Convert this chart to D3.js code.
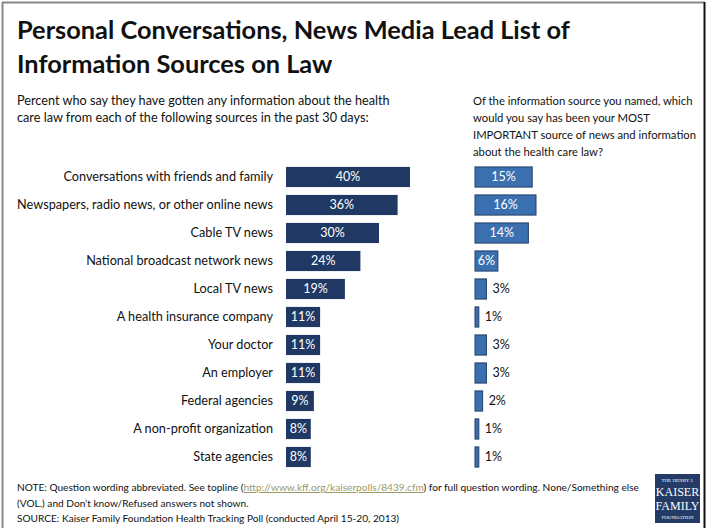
<!DOCTYPE html>
<html><head><meta charset="utf-8">
<script src="https://cdn.jsdelivr.net/npm/d3@7"></script>
<style>body{margin:0;background:#fff;} svg{display:block;font-family:Lato,"Open Sans",sans-serif;}</style>
</head><body>
<svg id="c" width="707" height="528"></svg>
<script>
const categories = ["Conversations with friends and family","Newspapers, radio news, or other online news","Cable TV news","National broadcast network news","Local TV news","A health insurance company","Your doctor","An employer","Federal agencies","A non-profit organization","State agencies"];
const anyInfo = [40,36,30,24,19,11,11,11,9,8,8];
const mostImportant = [15,16,14,6,3,1,3,3,2,1,1];

const svg = d3.select("#c");
// scale font of a selection of elements so the widest measured element has given width
function fit(sel, measureSel, target){
  let w = 0;
  measureSel.each(function(){ w = Math.max(w, this.getComputedTextLength()); });
  const fs = parseFloat(sel.attr("font-size"));
  sel.attr("font-size", fs*target/w);
}

// frame
svg.append("line").attr("x1",2).attr("x2",705).attr("y1",2.5).attr("y2",2.5).attr("stroke","#888").attr("stroke-width",2);
svg.append("line").attr("x1",2.5).attr("x2",2.5).attr("y1",2).attr("y2",528).attr("stroke","#888").attr("stroke-width",2);
svg.append("line").attr("x1",704.5).attr("x2",704.5).attr("y1",2).attr("y2",528).attr("stroke","#111").attr("stroke-width",2);

const title = svg.append("text").attr("font-weight","bold").attr("font-size",25).attr("fill","#111");
title.append("tspan").attr("x",17).attr("y",39).text("Personal Conversations, News Media Lead List of");
title.append("tspan").attr("x",17).attr("y",73).text("Information Sources on Law");
fit(title, title.selectAll("tspan"), 553);

const sub1 = svg.append("text").attr("font-size",13).attr("fill","#111");
["Percent who say they have gotten any information about the health","care law from each of the following sources in the past 30 days:"].forEach((t,i)=>
  sub1.append("tspan").attr("x",17).attr("y",105+i*17).text(t));
fit(sub1, sub1.selectAll("tspan"), 373);
const sub2 = svg.append("text").attr("font-size",13).attr("fill","#111");
["Of the information source you named, which","would you say has been your MOST","IMPORTANT source of news and information","about the health care law?"].forEach((t,i)=>
  sub2.append("tspan").attr("x",473).attr("y",105+i*17).text(t));
fit(sub2, sub2.selectAll("tspan"), 223);

const y = d3.scaleBand().domain(categories).range([163,471]).paddingInner(0.28).paddingOuter(0.14);
const xL = d3.scaleLinear().domain([0,40]).range([286,410]);
const xR = d3.scaleLinear().domain([0,16]).range([475,536]);

const rows = svg.append("g").selectAll("g").data(categories).join("g");
const catLabels = rows.append("text").attr("x",273).attr("y",c=>y(c)+y.bandwidth()/2).attr("dy","0.35em")
  .attr("text-anchor","end").attr("font-size",13).attr("fill","#111").text(c=>c);
fit(catLabels, catLabels, 256);

rows.append("rect").attr("x",xL(0)).attr("y",c=>y(c)).attr("height",y.bandwidth())
  .attr("width",(c,i)=>xL(anyInfo[i])-xL(0)).attr("fill","#1f3864");
rows.append("text").attr("x",(c,i)=>(xL(anyInfo[i])+xL(0))/2).attr("y",c=>y(c)+y.bandwidth()/2).attr("dy","0.35em")
  .attr("text-anchor","middle").attr("font-size",12.5).attr("fill","#fff").text((c,i)=>anyInfo[i]+"%");

rows.append("rect").attr("x",xR(0)).attr("y",c=>y(c)).attr("height",y.bandwidth())
  .attr("width",(c,i)=>xR(mostImportant[i])-xR(0)).attr("fill","#3a6fb0").attr("stroke","#243f66").attr("stroke-width",1);
rows.append("text")
  .attr("x",(c,i)=>mostImportant[i]>=5 ? (xR(mostImportant[i])+xR(0))/2 : xR(mostImportant[i])+6)
  .attr("y",c=>y(c)+y.bandwidth()/2).attr("dy","0.35em")
  .attr("text-anchor",(c,i)=>mostImportant[i]>=5?"middle":"start").attr("font-size",12.5)
  .attr("fill",(c,i)=>mostImportant[i]>=5?"#fff":"#111").text((c,i)=>mostImportant[i]+"%");

// footer
const f = svg.append("text").attr("font-size",10.5).attr("fill","#111");
const l1 = f.append("tspan").attr("x",17).attr("y",491);
l1.append("tspan").text("NOTE: Question wording abbreviated. See topline (");
l1.append("tspan").attr("fill","#9a9a6a").attr("text-decoration","underline").text("http://www.kff.org/kaiserpolls/8439.cfm");
l1.append("tspan").text(") for full question wording. None/Something else");
f.append("tspan").attr("x",17).attr("y",507).text("(VOL.) and Don\u2019t know/Refused answers not shown.");
f.append("tspan").attr("x",17).attr("y",522).text("SOURCE: Kaiser Family Foundation Health Tracking Poll (conducted April 15-20, 2013)");
fit(f, l1, 623);

// logo
const lg = svg.append("g").attr("transform","translate(655,474)");
lg.append("rect").attr("width",45).attr("height",49).attr("fill","#233b66");
const lt = lg.append("text").attr("fill","#fff").attr("text-anchor","middle").attr("font-family","'Liberation Serif',serif");
lt.append("tspan").attr("x",22.5).attr("y",8).attr("font-size",5).text("THE HENRY J.");
lt.append("tspan").attr("x",22.5).attr("y",22).attr("font-size",12).text("KAISER");
lt.append("tspan").attr("x",22.5).attr("y",36).attr("font-size",12).text("FAMILY");
lt.append("tspan").attr("x",22.5).attr("y",45).attr("font-size",5).text("FOUNDATION");
</script>
</body></html>
